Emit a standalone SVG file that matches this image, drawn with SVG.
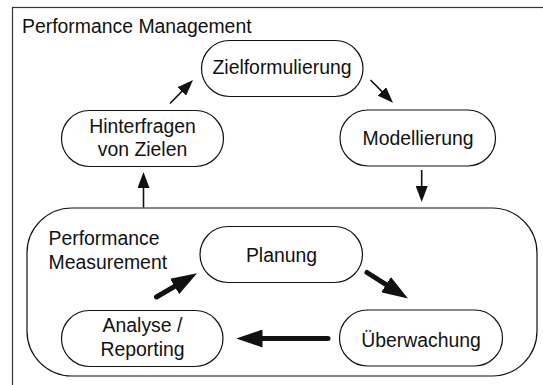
<svg xmlns="http://www.w3.org/2000/svg" width="543" height="385" viewBox="0 0 543 385">
<style>
  text { font-family: "Liberation Sans", Arial, sans-serif; font-size: 19.4px; fill: #111; }
  .c { text-anchor: middle; }
  .node { fill: #fff; stroke: #111; stroke-width: 1.2; }
  .thin { stroke: #111; stroke-width: 1.6; fill: none; }
  .thick { stroke: #111; stroke-width: 5; fill: none; stroke-linecap: round; }
</style>
<defs>
  <marker id="ah" markerUnits="userSpaceOnUse" markerWidth="16" markerHeight="12" refX="12" refY="6" orient="auto">
    <path d="M0,0 L16,6 L0,12 z" fill="#111"/>
  </marker>
  <marker id="ahb" markerUnits="userSpaceOnUse" markerWidth="26" markerHeight="18" refX="8" refY="9" orient="auto">
    <path d="M0,0 L26,9 L0,18 z" fill="#111"/>
  </marker>
</defs>
<rect width="543" height="385" fill="#fff"/>
<g id="frame">
  <rect x="12.5" y="7.5" width="560" height="400" fill="none" stroke="#333" stroke-width="1.2"/>
  <text x="22" y="32.7">Performance Management</text>
</g>
<g id="measurement">
  <rect x="27" y="208" width="510" height="168" rx="45" ry="45" fill="none" stroke="#111" stroke-width="1.2"/>
  <text x="48.5" y="244.5">Performance</text>
  <text x="48.5" y="268.5">Measurement</text>
</g>
<g id="zielformulierung">
  <rect class="node" x="201.5" y="40.5" width="161.5" height="56" rx="28"/>
  <text class="c" x="282" y="73.5">Zielformulierung</text>
</g>
<g id="hinterfragen">
  <rect class="node" x="61.5" y="110.5" width="162" height="56" rx="28"/>
  <text class="c" x="142.5" y="132.5">Hinterfragen</text>
  <text class="c" x="142.5" y="156">von Zielen</text>
</g>
<g id="modellierung">
  <rect class="node" x="340" y="110" width="155.5" height="56" rx="28"/>
  <text class="c" x="418" y="145">Modellierung</text>
</g>
<g id="planung">
  <rect class="node" x="200" y="226.5" width="162.5" height="56" rx="28"/>
  <text class="c" x="281.5" y="261.5">Planung</text>
</g>
<g id="ueberwachung">
  <rect class="node" x="339.5" y="310" width="163" height="56" rx="28"/>
  <text class="c" x="421" y="346.5">Überwachung</text>
</g>
<g id="analyse">
  <rect class="node" x="61.5" y="310.5" width="161.5" height="56" rx="28"/>
  <text class="c" x="142.5" y="331.7">Analyse /</text>
  <text class="c" x="142.5" y="355.7">Reporting</text>
</g>
<g id="connectors">
  <line class="thin" x1="170" y1="103.5" x2="190.2" y2="82.9" marker-end="url(#ah)"/>
  <line class="thin" x1="370.5" y1="80" x2="390.2" y2="99.9" marker-end="url(#ah)"/>
  <line class="thin" x1="421.7" y1="170" x2="421.7" y2="198" marker-end="url(#ah)"/>
  <line class="thin" x1="143.5" y1="207.5" x2="143.5" y2="176" marker-end="url(#ah)"/>
  <line class="thick" x1="156.5" y1="297" x2="181.5" y2="282.4" marker-end="url(#ahb)"/>
  <line class="thick" x1="367" y1="272.5" x2="392.8" y2="288.9" marker-end="url(#ahb)"/>
  <line class="thick" x1="328" y1="338.5" x2="254.5" y2="338.5" marker-end="url(#ahb)"/>
</g>
</svg>
